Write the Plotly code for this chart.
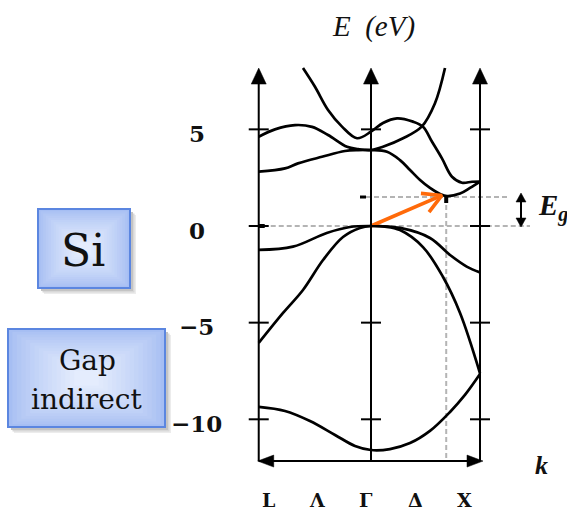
import numpy as np
import plotly.graph_objects as go

W, H = 567, 511

# Pixel scale of the band diagram: Γ / 0 eV sits at (371, 226)
ORIGIN_PX = (371.0, 226.0)
PX_PER_K = 109.0
PX_PER_EV = 19.33

# High-symmetry points along the path (Γ at the origin)
K_L, K_G, K_X = -1.03, 0.0, 1.0
K_AXES = [K_L, K_G, K_X]

E_TICKS = [5, 0, -5, -10]
E_TICK_TEXT = ["5", "0", "\u22125", "\u221210"]
PATH_LABELS = ["L", "\u039b", "\u0393", "\u0394", "X"]

# Valence bands (k, E in eV)
v1_k = [-1.03, -0.789, -0.56, -0.33, -0.147, 0.0, 0.174, 0.358, 0.541, 0.725, 0.862, 1.0]
v1_e = [-9.36, -9.57, -10.09, -10.81, -11.38, -11.59, -11.54, -11.23, -10.60, -9.62, -8.74, -7.66]

v2_k = [-1.03, -0.807, -0.624, -0.44, -0.257, -0.101, 0.0, 0.128, 0.266, 0.477, 0.661, 0.817, 1.0]
v2_e = [-6.05, -4.50, -3.31, -1.76, -0.57, -0.10, 0.0, -0.03, -0.21, -1.09, -2.64, -4.50, -7.62]

v3_k = [-1.03, -0.716, -0.406, -0.193, 0.0, 0.266, 0.541, 0.725, 0.878, 1.0]
v3_e = [-1.24, -1.07, -0.36, -0.05, 0.0, -0.10, -0.62, -1.50, -2.10, -2.40]

# Conduction bands
c1_k = [-1.03, -0.789, -0.67, -0.45, -0.239, -0.119, 0.0, 0.147, 0.266, 0.358, 0.45, 0.541, 0.633, 0.697, 0.817, 0.908, 1.0]
c1_e = [2.81, 2.98, 3.24, 3.58, 3.88, 3.93, 3.93, 3.84, 3.41, 2.90, 2.38, 1.97, 1.66, 1.55, 1.68, 1.97, 2.30]

c2_k = [-1.03, -0.881, -0.697, -0.541, -0.394, -0.22, -0.119, 0.0, 0.11, 0.294, 0.465, 0.587, 0.679]
c2_e = [4.62, 5.00, 5.22, 5.13, 4.71, 4.10, 3.98, 3.93, 4.10, 4.54, 5.14, 6.35, 8.17]

c3_k = [-0.624, -0.514, -0.394, -0.266, -0.128, 0.0, 0.11, 0.239, 0.385, 0.477, 0.56, 0.651, 0.743, 0.835, 0.927, 1.0]
c3_e = [8.17, 7.20, 6.00, 5.14, 4.54, 4.88, 5.33, 5.57, 5.40, 5.14, 4.36, 3.50, 2.55, 2.24, 2.29, 2.30]

BANDS = [(v1_k, v1_e), (v2_k, v2_e), (v3_k, v3_e), (c1_k, c1_e), (c2_k, c2_e), (c3_k, c3_e)]

# Indirect gap: valence maximum at Γ, conduction minimum along Δ
E_VBM = 0.0
E_GAP = 1.5
K_CBM = 0.69
ARROW_TIP = (0.65, 1.58)

E_AXIS_TOP = 8.17
E_AXIS_BOTTOM = -12.16


def dk(px):
    return px / PX_PER_K


def de(px):
    return px / PX_PER_EV


def paper(x, y):
    return x / W, 1 - y / H


fig = go.Figure()


def seg(x0, y0, x1, y1, color="black", width=2.0, dash=None, layer="above"):
    fig.add_shape(type="line", xref="x", yref="y", x0=x0, y0=y0, x1=x1, y1=y1,
                  line=dict(color=color, width=width, dash=dash), layer=layer)


def poly(points, color="black"):
    path = "M " + " L ".join(f"{x:.5f},{y:.5f}" for x, y in points) + " Z"
    fig.add_shape(type="path", xref="x", yref="y", path=path,
                  fillcolor=color, line=dict(color=color, width=0.5))


def rect(x0, y0, x1, y1, color="black"):
    fig.add_shape(type="rect", xref="x", yref="y", x0=x0, y0=y0, x1=x1, y1=y1,
                  fillcolor=color, line=dict(width=0))


# Reference lines for the gap (dashed grey)
DASH = "5px,3px"
GREY = "#b4b4b4"
seg(K_L + dk(4), E_VBM, K_X + dk(50), E_VBM, GREY, 2, DASH, "below")
seg(K_G - dk(5), E_GAP, K_X + dk(28), E_GAP, GREY, 2, DASH, "below")
seg(K_CBM, E_GAP, K_CBM, E_AXIS_BOTTOM, GREY, 2, DASH, "below")
rect(K_L, E_VBM - de(2), K_L + dk(6), E_VBM + de(2))
rect(K_G - dk(11), E_GAP - de(1.5), K_G - dk(5), E_GAP + de(1.5))
rect(K_CBM - dk(2), E_GAP - de(6), K_CBM + dk(2), E_GAP + de(1))

# Vertical k-point axes with arrowheads and ticks
for k in K_AXES:
    seg(k, E_AXIS_BOTTOM, k, E_AXIS_TOP - de(14), width=2)
    poly([(k, E_AXIS_TOP), (k - dk(7.5), E_AXIS_TOP - de(16)), (k + dk(7.5), E_AXIS_TOP - de(16))])
    for e in E_TICKS:
        seg(k - dk(10), e, k + dk(10), e, width=2)

# Horizontal k axis with arrowheads at both ends
seg(K_L, E_AXIS_BOTTOM, K_X, E_AXIS_BOTTOM, width=2)
poly([(K_L - dk(1), E_AXIS_BOTTOM), (K_L + dk(15), E_AXIS_BOTTOM + de(6)), (K_L + dk(15), E_AXIS_BOTTOM - de(6))])
poly([(K_X + dk(3), E_AXIS_BOTTOM), (K_X - dk(13), E_AXIS_BOTTOM + de(6)), (K_X - dk(13), E_AXIS_BOTTOM - de(6))])

# Gap size marker (double arrow)
K_EG = K_X + dk(41)
seg(K_EG, E_VBM + de(6), K_EG, E_GAP - de(4), width=2)
poly([(K_EG, E_GAP + de(4)), (K_EG - dk(5), E_GAP - de(5)), (K_EG + dk(5), E_GAP - de(5))])
poly([(K_EG, E_VBM - de(1)), (K_EG - dk(5), E_VBM + de(8)), (K_EG + dk(5), E_VBM + de(8))])

# Bands
for bk, be in BANDS:
    fig.add_trace(go.Scatter(x=bk, y=be, mode="lines",
                             line=dict(color="black", width=2.7, shape="spline", smoothing=1.0),
                             hoverinfo="skip", showlegend=False))

# Indirect transition arrow Γ -> conduction minimum
ORANGE = "#ff6a0a"
tip_k, tip_e = ARROW_TIP
vx, vy = (tip_k - K_G) * PX_PER_K, (tip_e - E_VBM) * PX_PER_EV
ang = np.arctan2(vy, vx)
wing_len = 21.0
wings = []
for s in (+1, -1):
    a = ang + np.pi + s * np.deg2rad(29)
    wings.append((tip_k + dk(wing_len * np.cos(a)), tip_e + de(wing_len * np.sin(a))))
fig.add_trace(go.Scatter(x=[K_G, tip_k], y=[E_VBM, tip_e], mode="lines",
                         line=dict(color=ORANGE, width=3.6), hoverinfo="skip", showlegend=False))
fig.add_trace(go.Scatter(x=[wings[0][0], tip_k, wings[1][0]], y=[wings[0][1], tip_e, wings[1][1]],
                         mode="lines", line=dict(color=ORANGE, width=3.6),
                         hoverinfo="skip", showlegend=False))

# Energy tick labels
for e, t in zip(E_TICKS, E_TICK_TEXT):
    fig.add_annotation(x=-1.6, y=e, xref="x", yref="y", text=t, showarrow=False,
                       xanchor="center", yanchor="middle", yshift=-4,
                       font=dict(family="DejaVu Serif", size=23, color="#111111", weight="bold"))

# Path labels along the bottom edge
for i, lab in enumerate(PATH_LABELS):
    px_, _ = paper(268 + 49 * i, 0)
    fig.add_annotation(x=px_, y=0, xref="paper", yref="paper", text=lab, showarrow=False,
                       xanchor="center", yanchor="bottom", borderpad=0, yshift=-1,
                       font=dict(family="DejaVu Serif", size=19, color="#111111", weight="bold"))

px_, py_ = paper(541, 465)
fig.add_annotation(x=px_, y=py_, xref="paper", yref="paper", text="<b><i>k</i></b>", showarrow=False,
                   xanchor="center", yanchor="middle",
                   font=dict(family="Liberation Serif", size=26, color="#111111"))

px_, py_ = paper(373, 26)
fig.add_annotation(x=px_, y=py_, xref="paper", yref="paper",
                   text="<i>E\u00a0\u00a0(eV)</i>", showarrow=False,
                   xanchor="center", yanchor="middle",
                   font=dict(family="Liberation Serif", size=29, color="#111111"))

px_, py_ = paper(536, 207)
fig.add_annotation(x=px_, y=py_, xref="paper", yref="paper",
                   text="<b><i>E</i></b><sub><b><i>g</i></b></sub>", showarrow=False,
                   xanchor="left", yanchor="middle",
                   font=dict(family="Liberation Serif", size=29, color="#111111"))


# Gradient-filled label boxes with drop shadow
def label_box(x0, y0, x1, y1):
    for off, col in ((6, "#ececec"), (4.5, "#d8d8d8"), (3, "#c4c4c4")):
        a, b = paper(x0 + off, y0 + off)
        c, d = paper(x1 + off, y1 + off)
        fig.add_shape(type="rect", xref="paper", yref="paper", x0=a, y0=d, x1=c, y1=b,
                      fillcolor=col, line=dict(width=0))
    edge = np.array([166, 190, 243])
    centre = np.array([228, 236, 253])
    n = 16
    w, h = x1 - x0, y1 - y0
    for i in range(n):
        t = i / (n - 1)
        col = edge + (centre - edge) * t ** 0.8
        ix, iy = 0.45 * w * i / n, 0.45 * h * i / n
        a, b = paper(x0 + ix, y0 + iy)
        c, d = paper(x1 - ix, y1 - iy)
        fig.add_shape(type="rect", xref="paper", yref="paper", x0=a, y0=d, x1=c, y1=b,
                      fillcolor="rgb(%d,%d,%d)" % tuple(col.astype(int)), line=dict(width=0))
    a, b = paper(x0, y0)
    c, d = paper(x1, y1)
    fig.add_shape(type="rect", xref="paper", yref="paper", x0=a, y0=d, x1=c, y1=b,
                  fillcolor="rgba(0,0,0,0)", line=dict(color="#5b86e0", width=2))


label_box(38, 209, 130, 288)
label_box(8, 329, 165, 427)

BOX_FONT = dict(family="DejaVu Serif", color="#111111")
for text, x, y, size in (("Si", 83, 250, 44), ("Gap", 87, 360, 28), ("indirect", 87, 399, 28)):
    px_, py_ = paper(x, y)
    fig.add_annotation(x=px_, y=py_, xref="paper", yref="paper", text=text, showarrow=False,
                       xanchor="center", yanchor="middle", font=dict(size=size, **BOX_FONT))

ox, oy = ORIGIN_PX
fig.update_layout(
    width=W, height=H,
    margin=dict(l=0, r=0, t=0, b=0),
    paper_bgcolor="white", plot_bgcolor="white",
    xaxis=dict(range=[-ox / PX_PER_K, (W - ox) / PX_PER_K], visible=False, fixedrange=True),
    yaxis=dict(range=[-(H - oy) / PX_PER_EV, oy / PX_PER_EV], visible=False, fixedrange=True),
    showlegend=False,
)

fig.write_html("out.html")
